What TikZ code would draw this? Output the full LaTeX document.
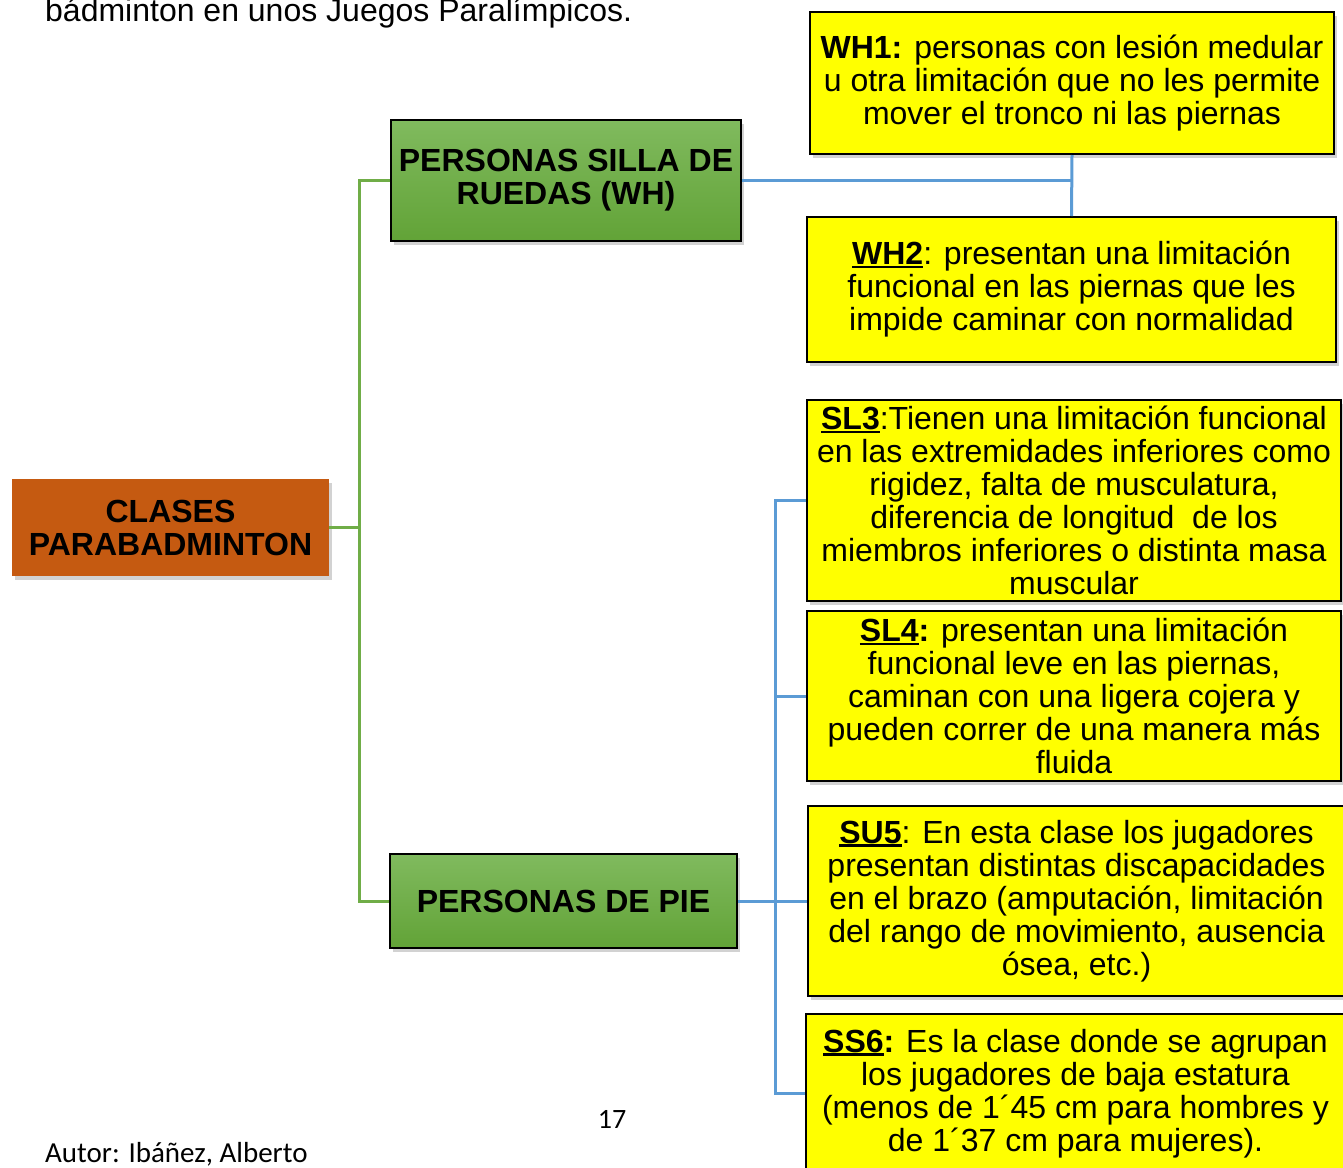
\documentclass[tikz,border=0pt]{standalone}
\usepackage{fontspec}
\setmainfont{Liberation Sans}
\newfontfamily\calib{Carlito}
\usetikzlibrary{shadows}
\definecolor{yel}{HTML}{FFFF00}
\definecolor{org}{HTML}{C55A11}
\definecolor{gtop}{HTML}{80BA5E}
\definecolor{gbot}{HTML}{62A337}
\definecolor{glinec}{HTML}{70AD47}
\definecolor{blinec}{HTML}{5B9BD5}
\newcommand\undl[1]{\setbox0\hbox{#1}\rlap{\rule[-3.5pt]{\wd0}{2.6pt}}\box0}
\tikzset{
 bx/.style={rectangle, inner sep=0pt, align=center, text=black,
   font=\fontsize{32}{33}\selectfont,
   drop shadow={shadow xshift=3pt, shadow yshift=-4pt, opacity=0.35}},
 ybox/.style={bx, fill=yel, draw=black, line width=2pt},
 gbox/.style={bx, top color=gtop, bottom color=gbot, draw=black, line width=2pt,
   font=\fontsize{32}{33}\selectfont\bfseries},
 obox/.style={bx, fill=org, font=\fontsize{32}{33}\selectfont\bfseries},
 gcon/.style={draw=glinec, line width=3pt},
 bcon/.style={draw=blinec, line width=3pt},
}
\begin{document}
\begin{tikzpicture}[x=1pt,y=-1pt]
\useasboundingbox[fill=white] (0,0) rectangle (1343,1167);

% header / footer texts
\node[anchor=base west, inner sep=0pt, font=\fontsize{32}{33}\selectfont] (head) at (45,21) {bádminton en unos Juegos Paralímpicos.};
\node[anchor=base, inner sep=0pt, font=\calib\fontsize{28}{30}\selectfont] (pnum) at (612,1128) {17};
\node[anchor=base west, inner sep=0pt, font=\calib\fontsize{29}{31}\selectfont] (autor) at (45,1162) {Autor: Ibáñez, Alberto};

% main boxes
\node[obox, minimum width=317pt, minimum height=97pt] (root) at (170.5,527.5) {CLASES\\PARABADMINTON};
\node[gbox, minimum width=350pt, minimum height=121pt] (wh) at (566,180.5) {PERSONAS SILLA DE\\RUEDAS (WH)};
\node[gbox, minimum width=347pt, minimum height=94pt] (pie) at (563.5,901) {PERSONAS DE PIE};

% yellow boxes
\node[ybox, minimum width=524pt, minimum height=142pt] (wh1) at (1072,83)
 {\textbf{WH1:} personas con lesión medular\\u otra limitación que no les permite\\mover el tronco ni las piernas};
\node[ybox, minimum width=529pt, minimum height=145pt] (wh2) at (1071.5,289.5)
 {\undl{\textbf{WH2}}: presentan una limitación\\funcional en las piernas que les\\impide caminar con normalidad};
\node[ybox, minimum width=534pt, minimum height=201pt] (sl3) at (1074,500.5)
 {\undl{\textbf{SL3}}:Tienen una limitación funcional\\en las extremidades inferiores como\\rigidez, falta de musculatura,\\diferencia de longitud\ \ de los\\miembros inferiores o distinta masa\\muscular};
\node[ybox, minimum width=534pt, minimum height=170pt] (sl4) at (1074,696)
 {\undl{\textbf{SL4}}\textbf{:} presentan una limitación\\funcional leve en las piernas,\\caminan con una ligera cojera y\\pueden correr de una manera más\\fluida};
\node[ybox, minimum width=537pt, minimum height=190pt] (su5) at (1076.5,901)
 {\undl{\textbf{SU5}}: En esta clase los jugadores\\presentan distintas discapacidades\\en el brazo (amputación, limitación\\del rango de movimiento, ausencia\\ósea, etc.)};
\node[ybox, minimum width=539pt, minimum height=159pt] (ss6) at (1075.5,1093.5)
 {\undl{\textbf{SS6}}\textbf{:} Es la clase donde se agrupan\\los jugadores de baja estatura\\(menos de 1´45 cm para hombres y\\de 1´37 cm para mujeres).};

% green connectors
\coordinate (gj) at (359,527.5);
\draw[gcon] (root.east) -- (gj);
\draw[gcon] (wh.west) -| (gj) |- (pie.west);

% blue connectors (WH)
\coordinate (wj) at (1072,180.5);
\draw[bcon] (wh.east) -- (wj);
\draw[bcon] (wh1.south) -- (wh2.north);

% blue connectors (PIE)
\coordinate (bj) at (775,901);
\draw[bcon] (pie.east) -- (su5.west);
\draw[bcon] (sl3.west) -| (bj);
\draw[bcon] (sl4.west) -| (bj);
\draw[bcon] (ss6.west) -| (bj);
\end{tikzpicture}
\end{document}
